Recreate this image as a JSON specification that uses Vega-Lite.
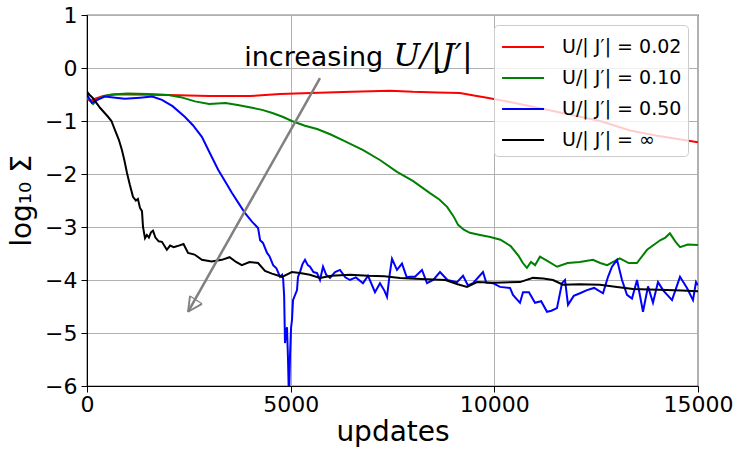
{
  "$schema": "https://vega.github.io/schema/vega-lite/v6.json",
  "width": 611,
  "height": 371,
  "autosize": {"type": "none"},
  "padding": {"left": 87, "top": 15, "right": 40, "bottom": 63},
  "config": {
    "font": "DejaVu Sans",
    "view": {"stroke": "#000000", "strokeWidth": 1.2},
    "axis": {
      "labelFont": "DejaVu Sans",
      "titleFont": "DejaVu Sans",
      "labelFontSize": 22,
      "titleFontSize": 28,
      "titleFontWeight": "normal",
      "labelColor": "#000000",
      "titleColor": "#000000",
      "domainColor": "#000000",
      "tickColor": "#000000",
      "tickSize": 6,
      "gridColor": "#b0b0b0",
      "gridWidth": 1,
      "gridOpacity": 1
    },
    "legend": {
      "orient": "top-right",
      "offset": 10,
      "fillColor": "rgba(255,255,255,0.8)",
      "strokeColor": "#cccccc",
      "cornerRadius": 4,
      "padding": 6,
      "rowPadding": 5,
      "labelFont": "DejaVu Sans",
      "labelFontSize": 19,
      "labelColor": "#000000",
      "symbolType": "M-0.93,0H1.87",
      "symbolSize": 900,
      "symbolStrokeWidth": 2,
      "labelOffset": 30
    }
  },
  "datasets": {
    "series": [
      {"s": "0.02", "x": 0, "y": -0.58}, {"s": "0.02", "x": 80, "y": -0.62}, {"s": "0.02", "x": 200, "y": -0.58}, {"s": "0.02", "x": 400, "y": -0.53}, {"s": "0.02", "x": 700, "y": -0.5}, {"s": "0.02", "x": 1000, "y": -0.5}, {"s": "0.02", "x": 2000, "y": -0.51}, {"s": "0.02", "x": 3000, "y": -0.53}, {"s": "0.02", "x": 4000, "y": -0.53}, {"s": "0.02", "x": 4740, "y": -0.49}, {"s": "0.02", "x": 5500, "y": -0.47}, {"s": "0.02", "x": 6500, "y": -0.45}, {"s": "0.02", "x": 7437, "y": -0.43}, {"s": "0.02", "x": 8000, "y": -0.45}, {"s": "0.02", "x": 8600, "y": -0.46}, {"s": "0.02", "x": 9155, "y": -0.47}, {"s": "0.02", "x": 9500, "y": -0.52}, {"s": "0.02", "x": 9820, "y": -0.56}, {"s": "0.02", "x": 10385, "y": -0.64}, {"s": "0.02", "x": 11000, "y": -0.74}, {"s": "0.02", "x": 11500, "y": -0.82}, {"s": "0.02", "x": 12100, "y": -0.92}, {"s": "0.02", "x": 12600, "y": -1.0}, {"s": "0.02", "x": 13330, "y": -1.18}, {"s": "0.02", "x": 14000, "y": -1.28}, {"s": "0.02", "x": 14500, "y": -1.34}, {"s": "0.02", "x": 15000, "y": -1.4},

      {"s": "0.10", "x": 0, "y": -0.55}, {"s": "0.10", "x": 60, "y": -0.6}, {"s": "0.10", "x": 150, "y": -0.68}, {"s": "0.10", "x": 250, "y": -0.6}, {"s": "0.10", "x": 400, "y": -0.53}, {"s": "0.10", "x": 600, "y": -0.5}, {"s": "0.10", "x": 1000, "y": -0.48}, {"s": "0.10", "x": 1500, "y": -0.49}, {"s": "0.10", "x": 2000, "y": -0.51}, {"s": "0.10", "x": 2300, "y": -0.55}, {"s": "0.10", "x": 2650, "y": -0.63}, {"s": "0.10", "x": 3000, "y": -0.68}, {"s": "0.10", "x": 3400, "y": -0.66}, {"s": "0.10", "x": 3700, "y": -0.7}, {"s": "0.10", "x": 4050, "y": -0.75}, {"s": "0.10", "x": 4300, "y": -0.79}, {"s": "0.10", "x": 4550, "y": -0.85}, {"s": "0.10", "x": 4800, "y": -0.92}, {"s": "0.10", "x": 5030, "y": -1.0}, {"s": "0.10", "x": 5350, "y": -1.09}, {"s": "0.10", "x": 5650, "y": -1.15}, {"s": "0.10", "x": 5970, "y": -1.25}, {"s": "0.10", "x": 6300, "y": -1.37}, {"s": "0.10", "x": 6780, "y": -1.55}, {"s": "0.10", "x": 7200, "y": -1.74}, {"s": "0.10", "x": 7610, "y": -1.96}, {"s": "0.10", "x": 8000, "y": -2.13}, {"s": "0.10", "x": 8420, "y": -2.36}, {"s": "0.10", "x": 8650, "y": -2.48}, {"s": "0.10", "x": 8840, "y": -2.62}, {"s": "0.10", "x": 9000, "y": -2.8}, {"s": "0.10", "x": 9110, "y": -2.96}, {"s": "0.10", "x": 9250, "y": -3.05}, {"s": "0.10", "x": 9400, "y": -3.11}, {"s": "0.10", "x": 9650, "y": -3.15}, {"s": "0.10", "x": 9900, "y": -3.19}, {"s": "0.10", "x": 10150, "y": -3.24}, {"s": "0.10", "x": 10400, "y": -3.36}, {"s": "0.10", "x": 10600, "y": -3.55}, {"s": "0.10", "x": 10700, "y": -3.68}, {"s": "0.10", "x": 10800, "y": -3.77}, {"s": "0.10", "x": 10900, "y": -3.66}, {"s": "0.10", "x": 11000, "y": -3.72}, {"s": "0.10", "x": 11120, "y": -3.56}, {"s": "0.10", "x": 11300, "y": -3.64}, {"s": "0.10", "x": 11540, "y": -3.75}, {"s": "0.10", "x": 11800, "y": -3.68}, {"s": "0.10", "x": 12100, "y": -3.66}, {"s": "0.10", "x": 12420, "y": -3.62}, {"s": "0.10", "x": 12600, "y": -3.68}, {"s": "0.10", "x": 12770, "y": -3.72}, {"s": "0.10", "x": 13080, "y": -3.59}, {"s": "0.10", "x": 13300, "y": -3.68}, {"s": "0.10", "x": 13500, "y": -3.68}, {"s": "0.10", "x": 13750, "y": -3.43}, {"s": "0.10", "x": 14070, "y": -3.25}, {"s": "0.10", "x": 14200, "y": -3.2}, {"s": "0.10", "x": 14310, "y": -3.12}, {"s": "0.10", "x": 14450, "y": -3.28}, {"s": "0.10", "x": 14560, "y": -3.38}, {"s": "0.10", "x": 14750, "y": -3.33}, {"s": "0.10", "x": 15000, "y": -3.34},

      {"s": "0.50", "x": 0, "y": -0.51}, {"s": "0.50", "x": 60, "y": -0.58}, {"s": "0.50", "x": 120, "y": -0.66}, {"s": "0.50", "x": 250, "y": -0.6}, {"s": "0.50", "x": 440, "y": -0.54}, {"s": "0.50", "x": 700, "y": -0.56}, {"s": "0.50", "x": 930, "y": -0.58}, {"s": "0.50", "x": 1300, "y": -0.56}, {"s": "0.50", "x": 1600, "y": -0.54}, {"s": "0.50", "x": 1840, "y": -0.6}, {"s": "0.50", "x": 2100, "y": -0.72}, {"s": "0.50", "x": 2400, "y": -0.92}, {"s": "0.50", "x": 2600, "y": -1.08}, {"s": "0.50", "x": 2820, "y": -1.3}, {"s": "0.50", "x": 3000, "y": -1.58}, {"s": "0.50", "x": 3220, "y": -1.92}, {"s": "0.50", "x": 3400, "y": -2.15}, {"s": "0.50", "x": 3560, "y": -2.36}, {"s": "0.50", "x": 3720, "y": -2.55}, {"s": "0.50", "x": 3880, "y": -2.74}, {"s": "0.50", "x": 4050, "y": -2.9}, {"s": "0.50", "x": 4200, "y": -3.02}, {"s": "0.50", "x": 4250, "y": -3.25}, {"s": "0.50", "x": 4320, "y": -3.3}, {"s": "0.50", "x": 4420, "y": -3.49}, {"s": "0.50", "x": 4480, "y": -3.55}, {"s": "0.50", "x": 4570, "y": -3.72}, {"s": "0.50", "x": 4650, "y": -3.78}, {"s": "0.50", "x": 4740, "y": -3.94}, {"s": "0.50", "x": 4790, "y": -3.9}, {"s": "0.50", "x": 4815, "y": -3.98}, {"s": "0.50", "x": 4840, "y": -4.3}, {"s": "0.50", "x": 4861, "y": -5.19}, {"s": "0.50", "x": 4885, "y": -5.0}, {"s": "0.50", "x": 4910, "y": -4.89}, {"s": "0.50", "x": 4935, "y": -5.5}, {"s": "0.50", "x": 4959, "y": -6.3}, {"s": "0.50", "x": 4985, "y": -5.4}, {"s": "0.50", "x": 5010, "y": -4.9}, {"s": "0.50", "x": 5033, "y": -4.75}, {"s": "0.50", "x": 5057, "y": -4.38}, {"s": "0.50", "x": 5156, "y": -4.19}, {"s": "0.50", "x": 5180, "y": -3.94}, {"s": "0.50", "x": 5229, "y": -3.85}, {"s": "0.50", "x": 5290, "y": -3.7}, {"s": "0.50", "x": 5352, "y": -3.62}, {"s": "0.50", "x": 5420, "y": -3.72}, {"s": "0.50", "x": 5475, "y": -3.75}, {"s": "0.50", "x": 5560, "y": -3.85}, {"s": "0.50", "x": 5647, "y": -3.87}, {"s": "0.50", "x": 5720, "y": -4.0}, {"s": "0.50", "x": 5794, "y": -3.75}, {"s": "0.50", "x": 5870, "y": -3.9}, {"s": "0.50", "x": 5966, "y": -3.96}, {"s": "0.50", "x": 6090, "y": -3.85}, {"s": "0.50", "x": 6211, "y": -3.81}, {"s": "0.50", "x": 6340, "y": -3.95}, {"s": "0.50", "x": 6457, "y": -4.0}, {"s": "0.50", "x": 6600, "y": -3.95}, {"s": "0.50", "x": 6776, "y": -4.06}, {"s": "0.50", "x": 6900, "y": -3.92}, {"s": "0.50", "x": 7070, "y": -4.23}, {"s": "0.50", "x": 7193, "y": -4.06}, {"s": "0.50", "x": 7300, "y": -4.2}, {"s": "0.50", "x": 7365, "y": -4.32}, {"s": "0.50", "x": 7430, "y": -3.9}, {"s": "0.50", "x": 7488, "y": -3.6}, {"s": "0.50", "x": 7610, "y": -3.81}, {"s": "0.50", "x": 7733, "y": -3.69}, {"s": "0.50", "x": 7850, "y": -3.95}, {"s": "0.50", "x": 7930, "y": -3.94}, {"s": "0.50", "x": 8052, "y": -3.94}, {"s": "0.50", "x": 8224, "y": -3.81}, {"s": "0.50", "x": 8347, "y": -4.06}, {"s": "0.50", "x": 8500, "y": -4.0}, {"s": "0.50", "x": 8666, "y": -3.85}, {"s": "0.50", "x": 8850, "y": -4.0}, {"s": "0.50", "x": 9084, "y": -4.04}, {"s": "0.50", "x": 9231, "y": -3.92}, {"s": "0.50", "x": 9350, "y": -4.1}, {"s": "0.50", "x": 9476, "y": -4.06}, {"s": "0.50", "x": 9722, "y": -3.85}, {"s": "0.50", "x": 9800, "y": -4.05}, {"s": "0.50", "x": 9967, "y": -4.06}, {"s": "0.50", "x": 10139, "y": -4.13}, {"s": "0.50", "x": 10385, "y": -4.15}, {"s": "0.50", "x": 10458, "y": -4.28}, {"s": "0.50", "x": 10630, "y": -4.43}, {"s": "0.50", "x": 10704, "y": -4.23}, {"s": "0.50", "x": 10850, "y": -4.23}, {"s": "0.50", "x": 10998, "y": -4.43}, {"s": "0.50", "x": 11150, "y": -4.4}, {"s": "0.50", "x": 11293, "y": -4.6}, {"s": "0.50", "x": 11400, "y": -4.58}, {"s": "0.50", "x": 11538, "y": -4.53}, {"s": "0.50", "x": 11661, "y": -4.06}, {"s": "0.50", "x": 11735, "y": -4.0}, {"s": "0.50", "x": 11809, "y": -4.47}, {"s": "0.50", "x": 11950, "y": -4.3}, {"s": "0.50", "x": 12103, "y": -4.25}, {"s": "0.50", "x": 12275, "y": -4.19}, {"s": "0.50", "x": 12450, "y": -4.15}, {"s": "0.50", "x": 12668, "y": -4.25}, {"s": "0.50", "x": 12791, "y": -3.94}, {"s": "0.50", "x": 12889, "y": -3.75}, {"s": "0.50", "x": 13012, "y": -3.62}, {"s": "0.50", "x": 13134, "y": -4.0}, {"s": "0.50", "x": 13257, "y": -4.28}, {"s": "0.50", "x": 13380, "y": -4.35}, {"s": "0.50", "x": 13503, "y": -4.0}, {"s": "0.50", "x": 13650, "y": -4.6}, {"s": "0.50", "x": 13773, "y": -4.12}, {"s": "0.50", "x": 13895, "y": -4.43}, {"s": "0.50", "x": 14018, "y": -4.04}, {"s": "0.50", "x": 14150, "y": -4.2}, {"s": "0.50", "x": 14362, "y": -4.38}, {"s": "0.50", "x": 14558, "y": -3.94}, {"s": "0.50", "x": 14730, "y": -4.15}, {"s": "0.50", "x": 14877, "y": -4.38}, {"s": "0.50", "x": 14951, "y": -4.04}, {"s": "0.50", "x": 15000, "y": -4.1},

      {"s": "∞", "x": 0, "y": -0.55}, {"s": "∞", "x": 25, "y": -0.47}, {"s": "∞", "x": 80, "y": -0.52}, {"s": "∞", "x": 147, "y": -0.57}, {"s": "∞", "x": 319, "y": -0.75}, {"s": "∞", "x": 516, "y": -0.92}, {"s": "∞", "x": 600, "y": -1.0}, {"s": "∞", "x": 687, "y": -1.17}, {"s": "∞", "x": 780, "y": -1.35}, {"s": "∞", "x": 859, "y": -1.55}, {"s": "∞", "x": 920, "y": -1.75}, {"s": "∞", "x": 982, "y": -1.98}, {"s": "∞", "x": 1050, "y": -2.2}, {"s": "∞", "x": 1129, "y": -2.43}, {"s": "∞", "x": 1200, "y": -2.5}, {"s": "∞", "x": 1250, "y": -2.47}, {"s": "∞", "x": 1301, "y": -2.64}, {"s": "∞", "x": 1350, "y": -2.7}, {"s": "∞", "x": 1375, "y": -3.0}, {"s": "∞", "x": 1424, "y": -3.21}, {"s": "∞", "x": 1470, "y": -3.15}, {"s": "∞", "x": 1520, "y": -3.2}, {"s": "∞", "x": 1570, "y": -3.1}, {"s": "∞", "x": 1620, "y": -3.07}, {"s": "∞", "x": 1680, "y": -3.2}, {"s": "∞", "x": 1760, "y": -3.27}, {"s": "∞", "x": 1840, "y": -3.28}, {"s": "∞", "x": 1960, "y": -3.43}, {"s": "∞", "x": 2040, "y": -3.35}, {"s": "∞", "x": 2130, "y": -3.38}, {"s": "∞", "x": 2220, "y": -3.36}, {"s": "∞", "x": 2370, "y": -3.32}, {"s": "∞", "x": 2480, "y": -3.49}, {"s": "∞", "x": 2640, "y": -3.52}, {"s": "∞", "x": 2820, "y": -3.62}, {"s": "∞", "x": 3060, "y": -3.65}, {"s": "∞", "x": 3310, "y": -3.62}, {"s": "∞", "x": 3500, "y": -3.57}, {"s": "∞", "x": 3660, "y": -3.66}, {"s": "∞", "x": 3800, "y": -3.72}, {"s": "∞", "x": 3990, "y": -3.66}, {"s": "∞", "x": 4200, "y": -3.68}, {"s": "∞", "x": 4370, "y": -3.83}, {"s": "∞", "x": 4540, "y": -3.88}, {"s": "∞", "x": 4790, "y": -3.94}, {"s": "∞", "x": 5030, "y": -3.85}, {"s": "∞", "x": 5229, "y": -3.87}, {"s": "∞", "x": 5470, "y": -3.9}, {"s": "∞", "x": 5720, "y": -3.96}, {"s": "∞", "x": 6000, "y": -3.92}, {"s": "∞", "x": 6457, "y": -3.9}, {"s": "∞", "x": 6900, "y": -3.92}, {"s": "∞", "x": 7300, "y": -3.93}, {"s": "∞", "x": 7684, "y": -3.96}, {"s": "∞", "x": 8200, "y": -3.98}, {"s": "∞", "x": 8800, "y": -4.0}, {"s": "∞", "x": 9100, "y": -4.08}, {"s": "∞", "x": 9329, "y": -4.13}, {"s": "∞", "x": 9575, "y": -4.04}, {"s": "∞", "x": 10000, "y": -4.05}, {"s": "∞", "x": 10630, "y": -4.04}, {"s": "∞", "x": 10949, "y": -3.96}, {"s": "∞", "x": 11200, "y": -3.97}, {"s": "∞", "x": 11440, "y": -4.0}, {"s": "∞", "x": 11686, "y": -4.09}, {"s": "∞", "x": 12100, "y": -4.08}, {"s": "∞", "x": 12594, "y": -4.09}, {"s": "∞", "x": 13012, "y": -4.13}, {"s": "∞", "x": 13405, "y": -4.17}, {"s": "∞", "x": 13800, "y": -4.18}, {"s": "∞", "x": 14239, "y": -4.19}, {"s": "∞", "x": 14600, "y": -4.2}, {"s": "∞", "x": 15000, "y": -4.21}
    ],
    "one": [{}]
  },
  "layer": [
    {
      "data": {"name": "series"},
      "mark": {"type": "line", "strokeWidth": 2, "clip": true, "interpolate": "linear"},
      "encoding": {
        "x": {
          "field": "x", "type": "quantitative",
          "scale": {"domain": [0, 15000], "nice": false, "zero": false},
          "axis": {"values": [0, 5000, 10000, 15000], "format": "d", "title": "updates", "titlePadding": 3, "labelPadding": 2, "labelFlush": false}
        },
        "y": {
          "field": "y", "type": "quantitative",
          "scale": {"domain": [-6, 1], "nice": false, "zero": false},
          "axis": {"values": [-6, -5, -4, -3, -2, -1, 0, 1], "format": "d", "title": "log₁₀ Σ", "titlePadding": 8, "labelPadding": 4}
        },
        "color": {
          "field": "s", "type": "nominal",
          "scale": {"domain": ["0.02", "0.10", "0.50", "∞"], "range": ["#ff0000", "#008000", "#0000ff", "#000000"]},
          "legend": {"title": null, "labelExpr": "'U/| J′| = ' + datum.label"}
        },
        "order": {"field": "x", "type": "quantitative"}
      }
    },
    {
      "data": {"name": "one"},
      "mark": {"type": "rule", "color": "#808080", "strokeWidth": 2.5},
      "encoding": {
        "x": {"datum": 5720}, "y": {"datum": -0.19},
        "x2": {"datum": 2480}, "y2": {"datum": -4.6}
      }
    },
    {
      "data": {"name": "one"},
      "mark": {"type": "rule", "color": "#808080", "strokeWidth": 1.8},
      "encoding": {
        "x": {"datum": 2480}, "y": {"datum": -4.6},
        "x2": {"datum": 2529}, "y2": {"datum": -4.3}
      }
    },
    {
      "data": {"name": "one"},
      "mark": {"type": "rule", "color": "#808080", "strokeWidth": 1.8},
      "encoding": {
        "x": {"datum": 2480}, "y": {"datum": -4.6},
        "x2": {"datum": 2823}, "y2": {"datum": -4.45}
      }
    },
    {
      "data": {"name": "one"},
      "mark": {"type": "rule", "color": "#808080", "strokeWidth": 1.2},
      "encoding": {
        "x": {"datum": 2529}, "y": {"datum": -4.3},
        "x2": {"datum": 2823}, "y2": {"datum": -4.45}
      }
    },
    {
      "data": {"name": "one"},
      "mark": {"type": "text", "font": "DejaVu Sans", "fontSize": 27, "align": "left", "baseline": "alphabetic", "color": "#000000"},
      "encoding": {"x": {"datum": 3860}, "y": {"datum": 0.03}, "text": {"value": "increasing"}}
    },
    {
      "data": {"name": "one"},
      "mark": {"type": "text", "font": "DejaVu Serif", "fontStyle": "italic", "fontSize": 32, "align": "left", "baseline": "alphabetic", "color": "#000000"},
      "encoding": {"x": {"datum": 7520}, "y": {"datum": 0.03}, "text": {"value": "U/|J′|"}}
    }
  ]
}
